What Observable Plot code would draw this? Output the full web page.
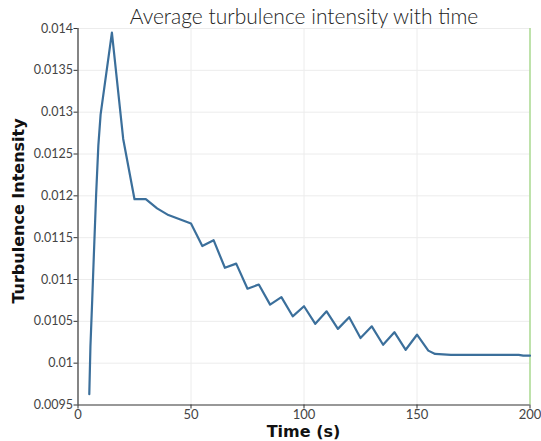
<!DOCTYPE html>
<html>
<head>
<meta charset="utf-8">
<script src="https://cdn.jsdelivr.net/npm/d3@7"></script>
<script src="https://cdn.jsdelivr.net/npm/@observablehq/plot@0.6"></script>
<style>
  html, body { margin: 0; padding: 0; background: #fff; }
  #chart { width: 541px; height: 441px; }
</style>
</head>
<body>
<div id="chart"></div>
<script>
const times = [5, 5.5, 6.3, 7, 8, 9, 10, 15, 20, 25, 30, 35, 40, 45, 50, 55, 60, 65, 70, 75, 80, 85, 90, 95, 100, 105, 110, 115, 120, 125, 130, 135, 140, 145, 150, 155, 158, 165, 195, 197, 200];
const intensity = [0.00963, 0.0102, 0.01076, 0.01128, 0.0120, 0.0126, 0.01297, 0.01395, 0.01268, 0.01196, 0.01196, 0.01185, 0.01177, 0.01172, 0.01167, 0.0114, 0.01147, 0.01114, 0.01119, 0.01089, 0.01094, 0.0107, 0.01079, 0.01056, 0.01068, 0.01047, 0.01062, 0.01041, 0.01055, 0.0103, 0.01044, 0.01022, 0.01037, 0.01016, 0.01034, 0.01015, 0.01011, 0.0101, 0.0101, 0.01009, 0.01009];
const xTicks = [0, 50, 100, 150, 200];
const yTicks = [0.0095, 0.01, 0.0105, 0.011, 0.0115, 0.012, 0.0125, 0.013, 0.0135, 0.014];
const currentTime = [200];
const titleText = "Average turbulence intensity with time";
const xLabel = "Time (s)";
const yLabel = "Turbulence Intensity";

const data = times.map((t, i) => ({t, v: intensity[i]}));
const fmtY = d => String(+d.toFixed(4));

const W = 541, H = 441;
const mL = 77.5, mR = 11.5, mT = 28, mB = 36.5;

const plot = Plot.plot({
  width: W,
  height: H,
  marginLeft: mL,
  marginRight: mR,
  marginTop: mT,
  marginBottom: mB,
  style: {fontFamily: "Lato, 'Open Sans', sans-serif", fontSize: "12.5px", color: "#444", background: "#fff"},
  x: {domain: [0, 200], ticks: xTicks},
  y: {domain: [0.0095, 0.014], ticks: yTicks},
  marks: [
    Plot.ruleX(xTicks.slice(1, -1), {stroke: "#ececec", strokeWidth: 1}),
    Plot.ruleY(yTicks.slice(1), {stroke: "#ececec", strokeWidth: 1}),
    Plot.ruleX(currentTime, {stroke: "#a9d88f", strokeWidth: 1.5}),
    Plot.ruleX([0], {stroke: "#333", strokeWidth: 1.2}),
    Plot.ruleY([0.0095], {stroke: "#333", strokeWidth: 1.2}),
    Plot.line(data, {x: "t", y: "v", stroke: "#3b6f9b", strokeWidth: 2.2, curve: "linear"}),
    Plot.axisX({ticks: xTicks, tickSize: 4, tickPadding: 1, label: null, stroke: "#333", fill: "#444", fontSize: 13}),
    Plot.axisY({ticks: yTicks, tickSize: 4, tickPadding: 1, label: null, tickFormat: fmtY, stroke: "#333", fill: "#444", fontSize: 12.5})
  ]
});

document.getElementById("chart").appendChild(plot);

const svg = d3.select(plot);
svg.append("text")
  .attr("x", 304).attr("y", 24)
  .attr("text-anchor", "middle")
  .attr("font-family", "Lato, 'Open Sans', sans-serif")
  .attr("font-weight", 300)
  .attr("font-size", 21)
  .attr("fill", "#222")
  .text(titleText);
svg.append("text")
  .attr("x", 303.5).attr("y", 437)
  .attr("text-anchor", "middle")
  .attr("font-family", "'DejaVu Sans', sans-serif")
  .attr("font-weight", "bold")
  .attr("font-size", 16)
  .attr("fill", "#111")
  .text(xLabel);
svg.append("text")
  .attr("transform", "translate(24,211) rotate(-90)")
  .attr("text-anchor", "middle")
  .attr("font-family", "'DejaVu Sans', sans-serif")
  .attr("font-weight", "bold")
  .attr("font-size", 16)
  .attr("fill", "#111")
  .text(yLabel);
</script>
</body>
</html>
